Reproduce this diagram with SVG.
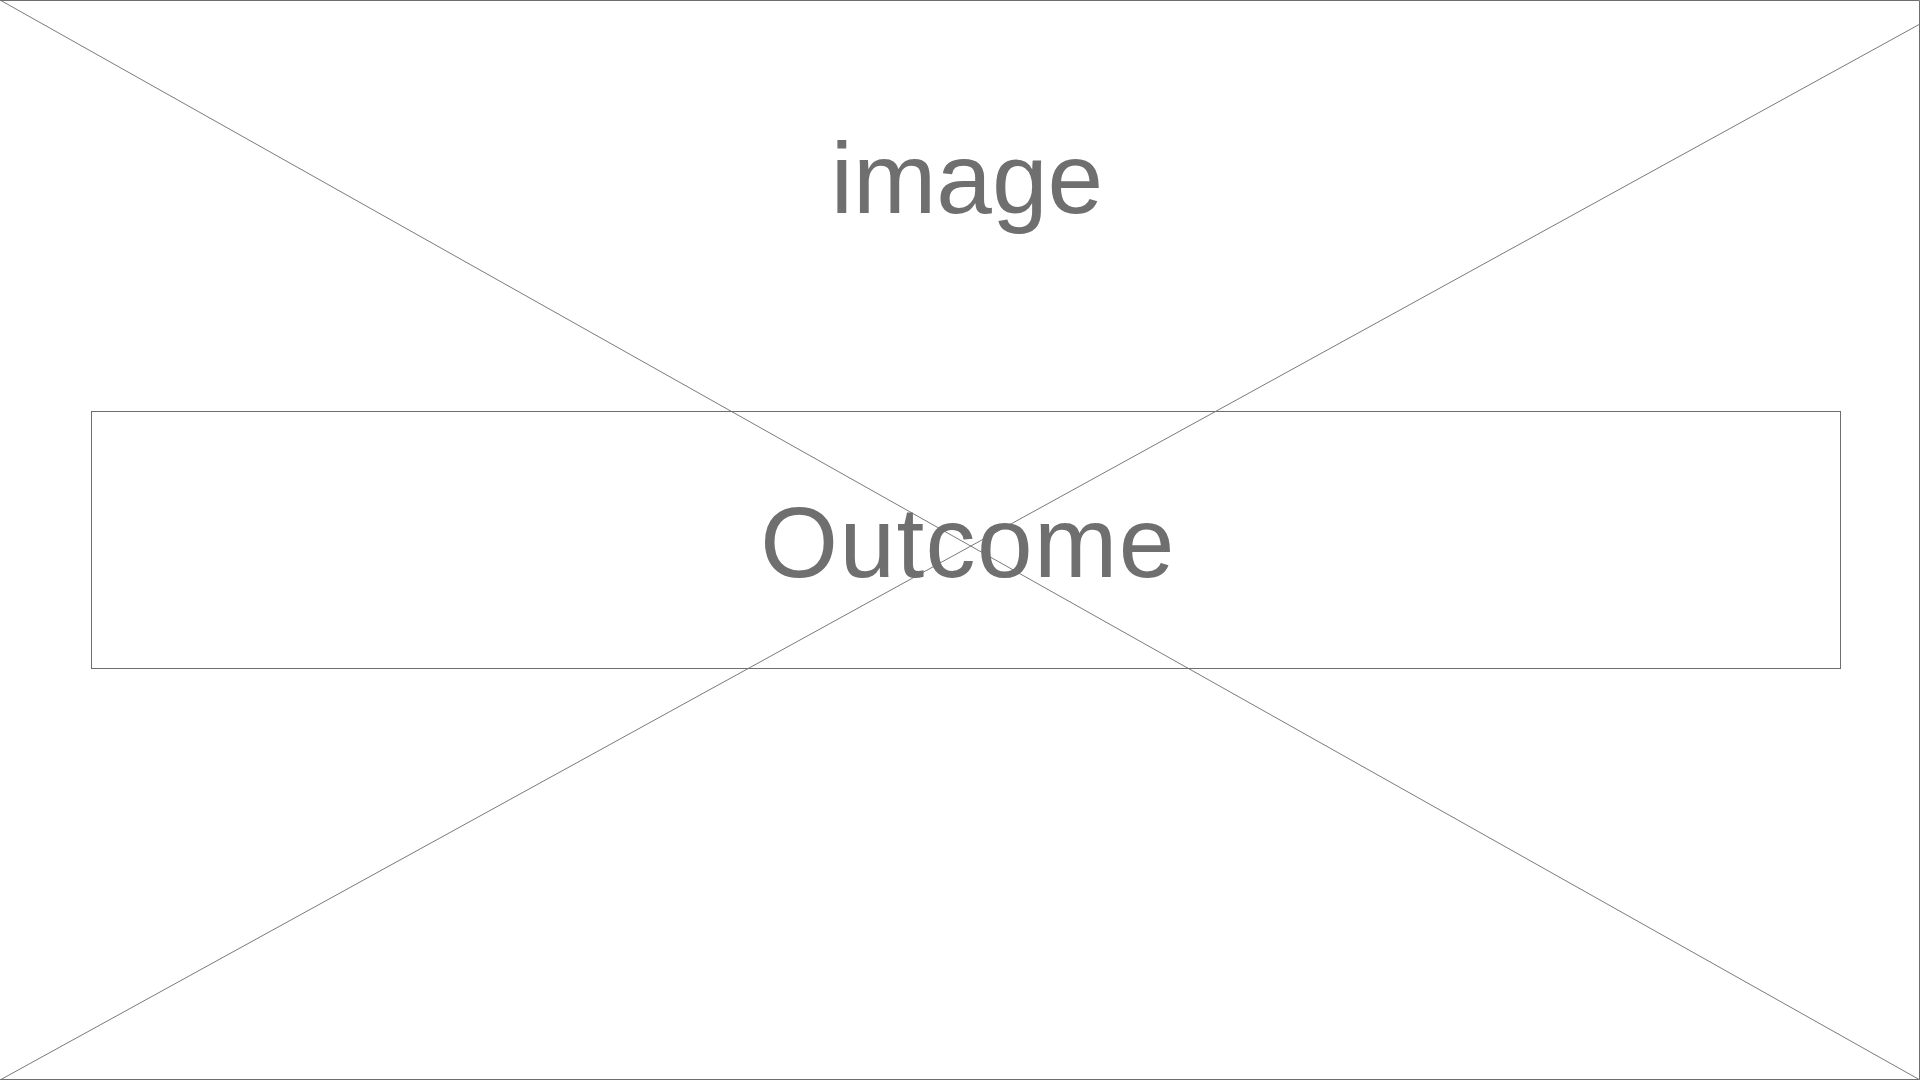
<svg xmlns="http://www.w3.org/2000/svg" width="1920" height="1080" viewBox="0 0 1920 1080">
  <style>
    .frame { fill: none; stroke: #6e6e6e; stroke-width: 1; }
    .diag { fill: none; stroke: #7a7a7a; stroke-width: 1; }
    .label { font-family: "Liberation Sans", Arial, sans-serif; font-size: 100px; fill: #6f6f6f; text-anchor: middle; }
  </style>
  <rect x="0" y="0" width="1920" height="1080" fill="#ffffff"/>
  <g id="image-placeholder">
    <path class="frame" d="M0,0.5 H1919.5 V1079.5 H0"/>
    <text class="label" x="967" y="213">image</text>
  </g>
  <g id="connectors">
    <line class="diag" x1="0" y1="0" x2="1920" y2="1080"/>
    <line class="diag" x1="1920" y1="24" x2="0" y2="1080"/>
  </g>
  <g id="outcome">
    <rect class="frame" x="91.5" y="411.5" width="1749" height="257"/>
    <text class="label" x="968" y="577" letter-spacing="1.4">Outcome</text>
  </g>
</svg>
